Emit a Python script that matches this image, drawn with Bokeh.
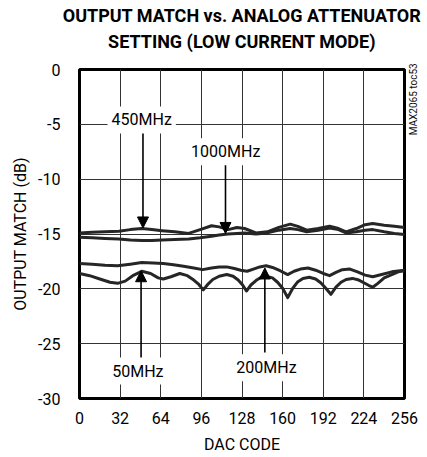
import math
from bokeh.plotting import figure
from bokeh.models import (Range1d, FixedTicker, Label, Arrow, NormalHead, Title, LinearAxis)
from bokeh.embed import file_html
from bokeh.resources import INLINE

# ---------------- data ----------------
title_lines = ["OUTPUT MATCH vs. ANALOG ATTENUATOR", "SETTING (LOW CURRENT MODE)"]
note_text = "MAX2065 toc53"
note_at = -6
x_ticks = [0, 32, 64, 96, 128, 160, 192, 224, 256]
x_tick_labels = ["0", "32", "64", "96", "128", "160", "192", "224", "256"]
y_ticks = [-30, -25, -20, -15, -10, -5, 0]
y_tick_labels = ["-30", "-25", "-20", "-15", "-10", "-5", "0"]

code_450 = [0, 10, 20, 31, 40, 49, 57, 65, 75, 86, 95, 104, 110, 117, 124, 130,
            139, 148, 157, 166, 172, 179, 188, 197, 204, 210, 218, 225, 231, 240, 248, 256]
match_450 = [-14.9, -14.85, -14.8, -14.75, -14.6, -14.5, -14.6, -14.7, -14.8, -14.95, -14.6,
             -14.25, -14.35, -14.6, -14.4, -14.5, -14.9, -14.8, -14.4, -14.1, -14.3, -14.65,
             -14.5, -14.3, -14.5, -14.8, -14.5, -14.15, -14.05, -14.2, -14.3, -14.4]

code_1000 = [0, 10, 20, 31, 40, 49, 57, 65, 75, 86, 95, 104, 110, 117, 124, 130,
             139, 148, 157, 166, 172, 179, 188, 197, 204, 210, 218, 225, 231, 240, 248, 256]
match_1000 = [-15.3, -15.35, -15.4, -15.45, -15.55, -15.6, -15.6, -15.55, -15.5, -15.45, -15.35,
              -15.2, -15.1, -15.0, -14.95, -14.9, -15.0, -14.9, -14.65, -14.5, -14.6, -14.8,
              -14.65, -14.45, -14.6, -14.9, -14.8, -14.65, -14.6, -14.8, -14.95, -15.05]

code_200 = [0, 10, 20, 30, 40, 49, 58, 66, 74, 82, 90, 97, 104, 110, 116, 122, 127, 132,
            137, 142, 147, 152, 158, 164, 169, 174, 180, 186, 192, 197, 202, 207, 213, 219,
            225, 231, 238, 246, 256]
match_200 = [-17.7, -17.75, -17.85, -17.9, -17.75, -17.6, -17.65, -17.7, -17.8, -17.95, -18.1,
             -18.25, -18.1, -18.0, -18.0, -18.15, -18.3, -18.4, -18.2, -18.0, -17.9, -18.05,
             -18.35, -18.7, -18.4, -18.2, -18.1, -18.3, -18.6, -18.8, -18.5, -18.25, -18.2,
             -18.45, -18.75, -18.9, -18.7, -18.45, -18.3]

code_50 = [0, 8, 16, 24, 30, 36, 42, 49, 56, 62, 66, 72, 79, 85, 90, 94, 97.5, 101, 105, 110,
           116, 121, 125, 128.5, 131.5, 135, 139, 143, 147, 152, 156, 160, 164, 168, 172, 176,
           181, 186, 190, 194, 198, 202, 206, 210, 215, 220, 224, 228, 231, 235, 240, 246, 251, 256]
match_50 = [-18.6, -18.8, -19.1, -19.4, -19.5, -19.3, -18.8, -18.4, -18.6, -19.0, -19.1, -18.9,
            -18.6, -18.8, -19.2, -19.6, -20.1, -19.6, -19.15, -18.85, -18.7, -18.85, -19.2,
            -19.65, -20.2, -19.65, -19.25, -18.95, -18.85, -19.0, -19.4, -19.95, -20.8, -19.95,
            -19.35, -19.05, -18.95, -19.1, -19.45, -19.95, -20.5, -19.85, -19.4, -19.15, -19.05,
            -19.2, -19.45, -19.7, -19.85, -19.5, -19.0, -18.7, -18.45, -18.35]

FONT = "Roboto"

p = figure(width=427, height=457, x_range=Range1d(0, 256), y_range=Range1d(-30, 0),
           output_backend="svg", toolbar_location=None,
           min_border_left=79, min_border_right=23, min_border_top=69, min_border_bottom=59)

# title block: spacer (closest to frame), second line, first line
p.add_layout(Title(text=" ", text_font_size="4px", standoff=11), "above")
p.add_layout(Title(text=title_lines[1], align="center", text_font=FONT,
                   text_font_size="18px", text_font_style="bold", text_color="black",
                   standoff=0, offset=0), "above")
p.add_layout(Title(text=title_lines[0], align="center", text_font=FONT,
                   text_font_size="18px", text_font_style="bold", text_color="black",
                   standoff=5, offset=0), "above")

p.outline_line_color = "black"
p.outline_line_width = 3
p.outline_line_alpha = 1

for ax in (p.xaxis[0], p.yaxis[0]):
    ax.axis_line_color = None
    ax.major_tick_line_color = None
    ax.minor_tick_line_color = None
    ax.major_tick_out = 0
    ax.major_tick_in = 0
    ax.major_label_text_font = FONT
    ax.major_label_text_font_size = "16px"
    ax.major_label_text_color = "black"
    ax.axis_label_text_font = FONT
    ax.axis_label_text_font_size = "16px"
    ax.axis_label_text_font_style = "normal"
    ax.axis_label_text_color = "black"

p.xaxis.ticker = FixedTicker(ticks=x_ticks)
p.xaxis.major_label_overrides = dict(zip(x_ticks, x_tick_labels))
p.yaxis.ticker = FixedTicker(ticks=y_ticks)
p.yaxis.major_label_overrides = dict(zip(y_ticks, y_tick_labels))
p.xaxis.axis_label = "DAC CODE"
p.yaxis.axis_label = "OUTPUT MATCH (dB)"
p.xaxis.major_label_standoff = 13
p.xaxis.axis_label_standoff = 8
p.yaxis.major_label_standoff = 19
p.yaxis.axis_label_standoff = 5

# small vertical document reference at the right edge
rax = LinearAxis(ticker=FixedTicker(ticks=[note_at]),
                 major_label_overrides={note_at: note_text},
                 major_label_orientation=math.pi / 2,
                 axis_line_color=None, major_tick_line_color=None,
                 minor_tick_line_color=None, major_tick_out=0, major_tick_in=0,
                 major_label_standoff=9, major_label_text_font=FONT,
                 major_label_text_font_size="10px", major_label_text_color="#111111")
p.add_layout(rax, "right")

p.xgrid.grid_line_color = "#333333"
p.ygrid.grid_line_color = "#333333"
p.xgrid.grid_line_width = 1
p.ygrid.grid_line_width = 1

curve_color = "#262626"
for xs, ys in ((code_450, match_450), (code_1000, match_1000),
               (code_200, match_200), (code_50, match_50)):
    p.line(xs, ys, line_color=curve_color, line_width=3, line_join="round")

def add_label(txt, x, y):
    p.add_layout(Label(x=x, y=y, text=txt, text_align="center", text_baseline="middle",
                       text_font=FONT, text_font_size="16px", text_color="black",
                       background_fill_color="white", background_fill_alpha=1.0,
                       padding=4))

def add_arrow(x, y0, y1):
    p.add_layout(Arrow(x_start=x, y_start=y0, x_end=x, y_end=y1, line_width=1.6,
                       line_color="black",
                       end=NormalHead(size=11, fill_color="black", line_color="black",
                                      line_width=1)))

add_arrow(50, -5.4, -14.45)
add_arrow(115, -8.4, -14.95)
add_arrow(48.5, -26.3, -18.35)
add_arrow(146, -25.8, -18.1)

add_label("450MHz", 49, -4.6)
add_label("1000MHz", 115.2, -7.5)
add_label("50MHz", 46, -27.5)
add_label("200MHz", 147.3, -27.2)

open("out.html", "w").write(file_html(p, INLINE))
